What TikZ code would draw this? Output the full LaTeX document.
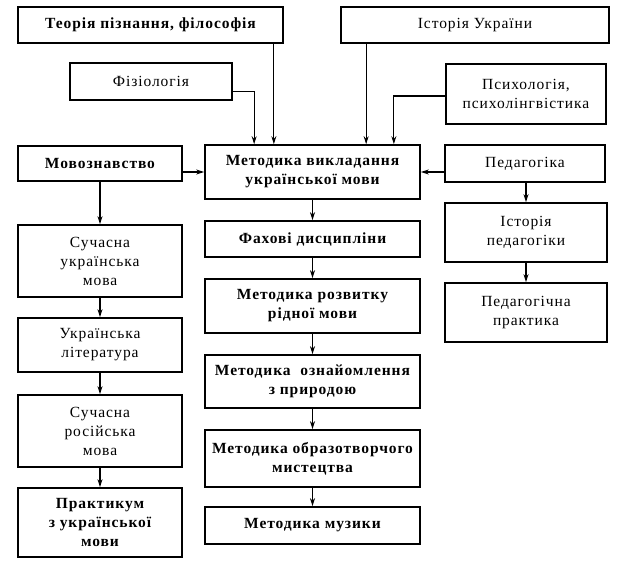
\documentclass[tikz,border=0pt]{standalone}
\usepackage{fontspec}
\setmainfont{Liberation Serif}[LetterSpace=6]
\usetikzlibrary{arrows.meta}
\begin{document}
\begin{tikzpicture}[x=1pt,y=-1pt,
  box/.style={draw=black,line width=1.7pt,inner sep=0pt,align=center,font=\fontsize{15.5}{19}\selectfont,fill=white},
  bbox/.style={box,font=\fontsize{15.5}{19}\selectfont\bfseries},
  arr/.style={line width=1.2pt,-{Stealth[length=8pt,width=5pt]}}]
\useasboundingbox (0,0) rectangle (617,569);
\newcommand{\bx}[7]{\node[#1,minimum width={#4-#2},minimum height={#5-#3}] (#6) at ({(#2+#4)/2},{(#3+#5)/2}) {#7};}
\bx{bbox}{18}{7}{283}{43}{teor}{Теорія пізнання, філософія}
\bx{box}{341}{7}{609}{43}{ist}{Історія України}
\bx{box}{70}{63}{232}{100}{fiz}{Фізіологія}
\bx{box}{446}{64}{606}{124}{psy}{Психологія,\\психолінгвістика}
\bx{bbox}{18}{146}{182}{181}{mov}{Мовознавство}
\bx{bbox}{205}{145}{420}{199}{met}{Методика викладання\\української мови}
\bx{box}{445}{145}{605}{182}{ped}{Педагогіка}
\bx{bbox}{205}{221}{420}{257}{fah}{Фахові дисципліни}
\bx{bbox}{205}{279}{420}{333}{roz}{Методика розвитку\\рідної мови}
\bx{bbox}{205}{355}{420}{408}{ozn}{Методика \ ознайомлення\\з природою}
\bx{bbox}{205}{430}{420}{487}{obr}{Методика образотворчого\\мистецтва}
\bx{bbox}{205}{507}{420}{544}{muz}{Методика музики}
\bx{box}{18}{225}{182}{297}{suk}{Сучасна\\українська\\мова}
\bx{box}{18}{318}{182}{372}{lit}{Українська\\література}
\bx{box}{18}{395}{182}{467}{ros}{Сучасна\\російська\\мова}
\bx{bbox}{18}{488}{182}{557}{pra}{Практикум\\з української\\мови}
\bx{box}{445}{203}{607}{262}{ipe}{Історія\\педагогіки}
\bx{box}{445}{283}{607}{342}{ppr}{Педагогічна\\практика}
% arrows into the central box
\draw[arr] ([xshift=-10pt]teor.south east) -- ([xshift=-10pt]teor.south east |- met.north);
\draw[arr] ([yshift=-10pt]fiz.east) -| ([xshift=50pt]met.north west);
\draw[arr] ([xshift=26pt]ist.south west) -- ([xshift=26pt]ist.south west |- met.north);
\draw[arr] ([yshift=-2pt]psy.west) -| ([xshift=-27pt]met.north east);
\draw[arr] (mov.east |- met.west) -- (met.west);
\draw[arr] (ped.west |- met.east) -- (met.east);
% central column
\draw[arr] (met) -- (fah);
\draw[arr] (fah) -- (roz);
\draw[arr] (roz) -- (ozn);
\draw[arr] (ozn) -- (obr);
\draw[arr] (obr) -- (muz);
% left column
\draw[arr] (mov.south -| suk.north) -- (suk.north);
\draw[arr] (suk) -- (lit);
\draw[arr] (lit) -- (ros);
\draw[arr] (ros) -- (pra);
% right column
\draw[arr] (ped.south -| ipe.north) -- (ipe.north);
\draw[arr] (ipe) -- (ppr);
\end{tikzpicture}
\end{document}
